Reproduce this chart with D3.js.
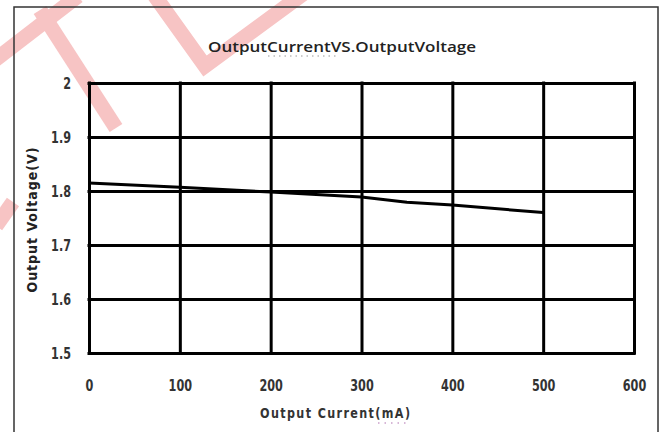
<!DOCTYPE html>
<html><head><meta charset="utf-8">
<script src="https://cdn.jsdelivr.net/npm/d3@7"></script>
<style>body{margin:0;background:#fff}svg{display:block}</style></head>
<body><svg id="c" width="662" height="432"></svg>
<script>
// ---- data ----
const currents = [0, 100, 200, 300, 350, 400, 500];
const voltages = [1.815, 1.807, 1.798, 1.789, 1.779, 1.774, 1.760];
const xTicks = [0, 100, 200, 300, 400, 500, 600];
const yTicks = [1.5, 1.6, 1.7, 1.8, 1.9, 2];
const yTickLabels = ["1.5", "1.6", "1.7", "1.8", "1.9", "2"];
const chartTitle = "OutputCurrentVS.OutputVoltage";
const xTitle = "Output Current(mA)";
const yTitle = "Output Voltage(V)";

const svg = d3.select("#c");
const M = {left: 89, right: 634, top: 83, bottom: 353};
const x = d3.scaleLinear().domain([0, 600]).range([M.left, M.right]);
const y = d3.scaleLinear().domain([1.5, 2]).range([M.bottom, M.top]);
const cond = "'DejaVu Sans Condensed', 'Liberation Sans Narrow', Arial, sans-serif";

// watermark (decorative, behind chart)
const wm = svg.append("g").attr("fill", "none").attr("stroke", "#f7c4c4")
  .attr("stroke-width", 15).attr("stroke-linecap", "butt");
[[[ -5, 60], [78, -4]],
 [[ 40, 10], [116, 128]],
 [[152, -8], [205, 66], [303, -6]],
 [[-4, 226], [13, 202]]].forEach(p => wm.append("path").attr("d", d3.line()(p)).attr("stroke-linejoin", "miter"));

// outer frame
svg.append("rect").attr("x", 14).attr("y", 7).attr("width", 644).attr("height", 440)
  .attr("fill", "none").attr("stroke", "#333").attr("stroke-width", 1.5);

// title
svg.append("text").attr("x", 342).attr("y", 52).attr("text-anchor", "middle")
  .attr("font-family", "'Open Sans', 'DejaVu Sans', sans-serif").attr("font-size", 14).attr("font-weight", 600)
  .attr("fill", "#222").attr("textLength", 268).attr("lengthAdjust", "spacingAndGlyphs")
  .text(chartTitle);
svg.append("line").attr("x1", 268).attr("x2", 337).attr("y1", 56).attr("y2", 56)
  .attr("stroke", "#999").attr("stroke-width", 1.2).attr("stroke-dasharray", "1.5,4");

// grid via axes
const gx = svg.append("g").attr("transform", `translate(0,${M.bottom})`)
  .call(d3.axisBottom(x).tickValues(xTicks).tickSize(-(M.bottom - M.top)).tickPadding(0).tickFormat(d3.format("d")));
const gy = svg.append("g").attr("transform", `translate(${M.left},0)`)
  .call(d3.axisLeft(y).tickValues(yTicks).tickSize(-(M.right - M.left)).tickPadding(0)
    .tickFormat((d, i) => yTickLabels[i]));
[gx, gy].forEach(g => {
  g.select(".domain").remove();
  g.selectAll(".tick line").attr("stroke", "#000").attr("stroke-width", 3).attr("stroke-linecap", "square");
  g.selectAll(".tick text").attr("fill", "#333")
    .attr("font-family", "'DejaVu Sans', sans-serif")
    .attr("font-weight", "bold").attr("font-size", 15);
});
gx.selectAll(".tick text").attr("dy", null).attr("x", 0).attr("y", 38).attr("transform", "scale(0.75,1)");
gy.selectAll(".tick text").attr("dy", null).attr("x", -18 / 0.75).attr("y", 5.5).attr("transform", "scale(0.75,1)");

// data line
svg.append("path").datum(currents.map((c, i) => [c, voltages[i]]))
  .attr("fill", "none").attr("stroke", "#000").attr("stroke-width", 3).attr("stroke-linejoin", "round")
  .attr("d", d3.line().x(d => x(d[0])).y(d => y(d[1])));

// axis titles
svg.append("text").attr("transform", "translate(335,418) scale(0.8,1)").attr("text-anchor", "middle")
  .attr("font-family", "'DejaVu Sans', sans-serif").attr("font-weight", "bold").attr("font-size", 14).attr("fill", "#333")
  .attr("textLength", 150 / 0.8).attr("lengthAdjust", "spacing").text(xTitle);
svg.append("line").attr("x1", 378).attr("x2", 408).attr("y1", 423).attr("y2", 423)
  .attr("stroke", "#b070b0").attr("stroke-width", 1.2).attr("stroke-dasharray", "1.5,5");
svg.append("text").attr("transform", "translate(37,220) rotate(-90)").attr("text-anchor", "middle")
  .attr("font-family", cond).attr("font-weight", "bold").attr("font-size", 14).attr("fill", "#222")
  .attr("textLength", 145).attr("lengthAdjust", "spacing").text(yTitle);
</script></body></html>
